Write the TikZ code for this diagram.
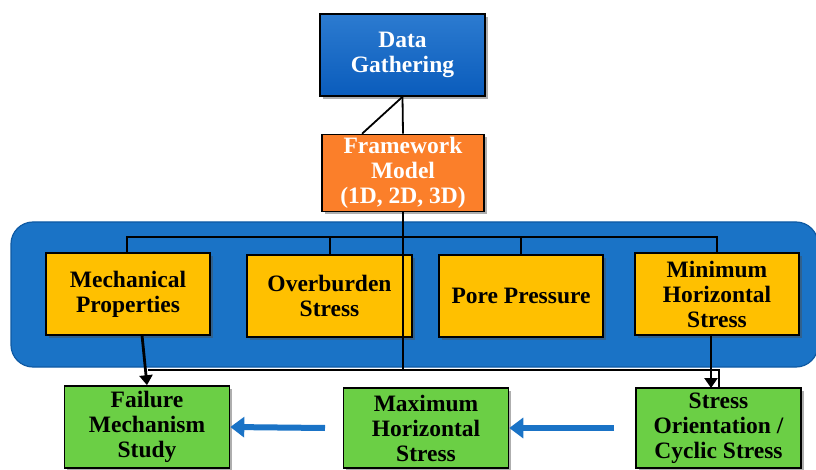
\documentclass[tikz,border=0pt]{standalone}
\usepackage{fontspec}
\setmainfont{Liberation Serif}
\usetikzlibrary{arrows.meta,shadows,calc}
\definecolor{dgblueA}{HTML}{2C7BD0}
\definecolor{dgblueB}{HTML}{0A5CBC}
\definecolor{fmorange}{HTML}{FB7F2A}
\definecolor{panelblue}{HTML}{1A73C6}
\definecolor{paneledge}{HTML}{0F5AA3}
\definecolor{boxyellow}{HTML}{FFC000}
\definecolor{boxgreen}{HTML}{6BCF45}
\definecolor{arrowblue}{HTML}{1A73C6}
\tikzset{
  box/.style={draw=black, line width=1.6pt, align=center, inner sep=2pt,
    font=\fontsize{23.5}{25}\selectfont\bfseries,
    drop shadow={shadow xshift=2.5pt, shadow yshift=-3pt, opacity=0.45, fill=black!70}},
  conn/.style={draw=black, line width=1.8pt},
  thickarrow/.style={draw=black, line width=2.8pt, -{Triangle[width=13pt,length=10pt]}},
  bluearrow/.style={draw=arrowblue, line width=6pt, -{Triangle[width=20pt,length=14pt]}}
}
\begin{document}
\begin{tikzpicture}[x=1pt,y=-1pt]
\useasboundingbox (0,0) rectangle (816,470);
% panel
\fill[panelblue, draw=paneledge, line width=1.2pt, rounded corners=22pt] (11,222) rectangle (818,367);
% top boxes
\node[box, top color=dgblueA, bottom color=dgblueB, text=white, minimum width=165pt, minimum height=82pt] (dg) at (402.5,55) {Data\\Gathering};
\node[box, fill=fmorange, text=white, minimum width=162pt, minimum height=77pt] (fm) at (403,173) {Framework\\Model\\(1D, 2D, 3D)};
% yellow boxes
\node[box, fill=boxyellow, minimum width=164pt, minimum height=82pt] (mp) at (128,294) {Mechanical\\Properties};
\node[box, fill=boxyellow, minimum width=165pt, minimum height=82pt] (ob) at (329.5,296) {Overburden\\Stress};
\node[box, fill=boxyellow, minimum width=164pt, minimum height=82pt] (pp) at (521,296) {Pore Pressure};
\node[box, fill=boxyellow, minimum width=164pt, minimum height=82pt] (mh) at (717,294) {Minimum\\Horizontal\\Stress};
% green boxes
\node[box, fill=boxgreen, minimum width=165pt, minimum height=82pt] (fa) at (147,427) {Failure\\Mechanism\\Study};
\node[box, fill=boxgreen, minimum width=165pt, minimum height=80pt] (mx) at (426,428) {Maximum\\Horizontal\\Stress};
\node[box, fill=boxgreen, minimum width=165pt, minimum height=80pt] (so) at (718.5,428) {Stress\\Orientation /\\Cyclic Stress};
% connectors top
\coordinate (diagend) at ($(fm.north)!0.5!(fm.north west)$);
\draw[conn] (dg.south) -- (fm.north);
\draw[conn] (dg.south) -- (diagend);
% bus
\coordinate (bus) at (403,237);
\draw[conn] (fm.south) -- (bus);
\draw[conn] (mp.north -| 127,0) -- (127,237) -- (717,237) -- (mh.north);
\draw[conn] (330,237) -- (ob.north -| 330,0);
\draw[conn] (pp.north) -- (521,237);
% frame line below panel
\draw[conn, line width=1.4pt] (bus) -- (403,370);
\draw[conn, line width=1.4pt] (148,370) -- (719,370) -- (719,388);
% thick arrows
\draw[thickarrow] (142,335) -- (fa.north);
\draw[thickarrow] (711,335) -- (711,388);
% blue arrows
\draw[bluearrow] (325,428) -- (fa.east);
\draw[bluearrow] (614,428) -- (mx.east);
\end{tikzpicture}
\end{document}
